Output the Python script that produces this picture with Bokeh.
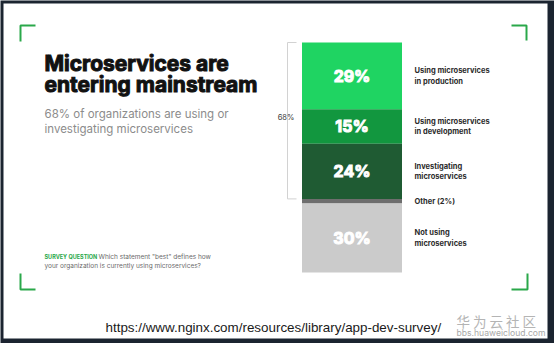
from bokeh.plotting import figure
from bokeh.models import Range1d, ColumnDataSource
from bokeh.core.properties import value
from bokeh.embed import file_html
from bokeh.resources import INLINE

# Survey answers, top to bottom of the stacked bar
categories = [
    "Using microservices\nin production",
    "Using microservices\nin development",
    "Investigating\nmicroservices",
    "Other (2%)",
    "Not using\nmicroservices",
]
shares = [29, 15, 24, 2, 30]
share_labels = ["29%", "15%", "24%", "", "30%"]

title_lines = ["Microservices are", "entering mainstream"]
subtitle_lines = ["68% of organizations are using or", "investigating microservices"]
question_tag = "SURVEY QUESTION"
question_lines = ["Which statement \"best\" defines how",
                  "your organization is currently using microservices?"]
source_url = "https://www.nginx.com/resources/library/app-dev-survey/"

palette = ["#1fd462", "#12973f", "#1f5b33", "#6e6e6e", "#cbcbcb"]
GREEN = "#2aa84a"
FONT = value("Inter")

W, H = 554, 343
p = figure(width=W, height=H, output_backend="svg", toolbar_location=None,
           x_range=Range1d(0, W), y_range=Range1d(H, 0), min_border=0,
           background_fill_color="#1b2430", border_fill_color="#1b2430")
p.axis.visible = False
p.grid.visible = False
p.outline_line_color = None

# percent scale for the stacked bar: 0% at y=42px, 100% at y=272px
bar_top, px_per_pct = 42, 2.3
p.extra_y_ranges = {"pct": Range1d(start=(H - bar_top) / px_per_pct,
                                   end=-bar_top / px_per_pct)}

# white card
p.quad(left=3, right=547, top=3, bottom=338, fill_color="white", line_color=None)

# corner marks
for xs, ys in [([20, 20, 35], [41, 25, 25]), ([511, 526, 526], [25, 25, 40]),
               ([20, 20, 35], [273, 289, 289]), ([511, 527, 527], [289, 289, 273])]:
    p.line(xs, ys, line_color=GREEN, line_width=2)

# stacked bar
bottoms, tops = [], []
acc = 0
for s in shares:
    bottoms.append(acc)
    acc += s
    tops.append(acc)
mids = [(b + t) / 2 for b, t in zip(bottoms, tops)]
src = ColumnDataSource(dict(bottom=bottoms, top=tops, mid=mids, color=palette,
                            label=share_labels, cat=categories))
p.vbar(x=351.5, width=100, bottom="bottom", top="top", fill_color="color",
       line_color=None, source=src, y_range_name="pct")
p.text(x=351.5, y="mid", text="label", source=src, y_range_name="pct",
       text_font=FONT, text_font_style="bold", text_font_size="16px",
       text_color="white", text_align="center", text_baseline="middle",
       text_outline_color="white")
p.text(x=414, y="mid", text="cat", source=src, y_range_name="pct",
       text_font=FONT, text_font_style="bold", text_font_size="7.5px",
       text_color="#2b2b2b", text_align="left", text_baseline="middle",
       text_line_height=1.15)

# bracket over the adopting/investigating share
adopting = sum(shares[:3])
p.line([296, 287, 287, 296], [0, 0, adopting, adopting], y_range_name="pct",
       line_color="#d2d2d2", line_width=1)
p.text(x=[285.5], y=[adopting / 2 - 1.3], text=[f"{adopting}%"], y_range_name="pct",
       text_font=FONT, text_font_size="7.5px", text_color="#3a3a3a",
       text_align="center", text_baseline="middle")

# headline and subtitle
p.text(x=[44, 44], y=[63, 84], text=title_lines, text_font=FONT,
       text_font_style="bold", text_font_size="21px", text_color="#111111",
       text_outline_color="#111111", text_baseline="alphabetic")
p.text(x=[44, 44], y=[113, 128], text=subtitle_lines, text_font=FONT,
       text_font_size="11.5px", text_color="#8c8c8c", text_baseline="alphabetic")

# survey question
p.text(x=[44], y=[256], text=[question_tag], text_font=FONT, text_font_style="bold",
       text_font_size="5.5px", text_color="#2aa84a", text_baseline="alphabetic")
p.text(x=[98, 44], y=[256, 265], text=question_lines, text_font=FONT,
       text_font_size="6.5px", text_color="#6a6a6a", text_baseline="alphabetic")

# source link and watermark
p.text(x=[105], y=[327], text=[source_url], text_font=value("Liberation Sans"),
       text_font_size="13.4px", text_color="#1a1a1a", text_baseline="alphabetic")
p.text(x=[456], y=[320], text=["华 为 云 社 区"], text_font=value("Noto Sans CJK SC"),
       text_font_size="13.5px", text_color="#b4b4b4", text_baseline="alphabetic")
p.text(x=[456], y=[332], text=["bbs.huaweicloud.com"], text_font=FONT,
       text_font_size="8.6px", text_color="#a8a8a8", text_baseline="alphabetic")

open("out.html", "w").write(file_html(p, INLINE))
